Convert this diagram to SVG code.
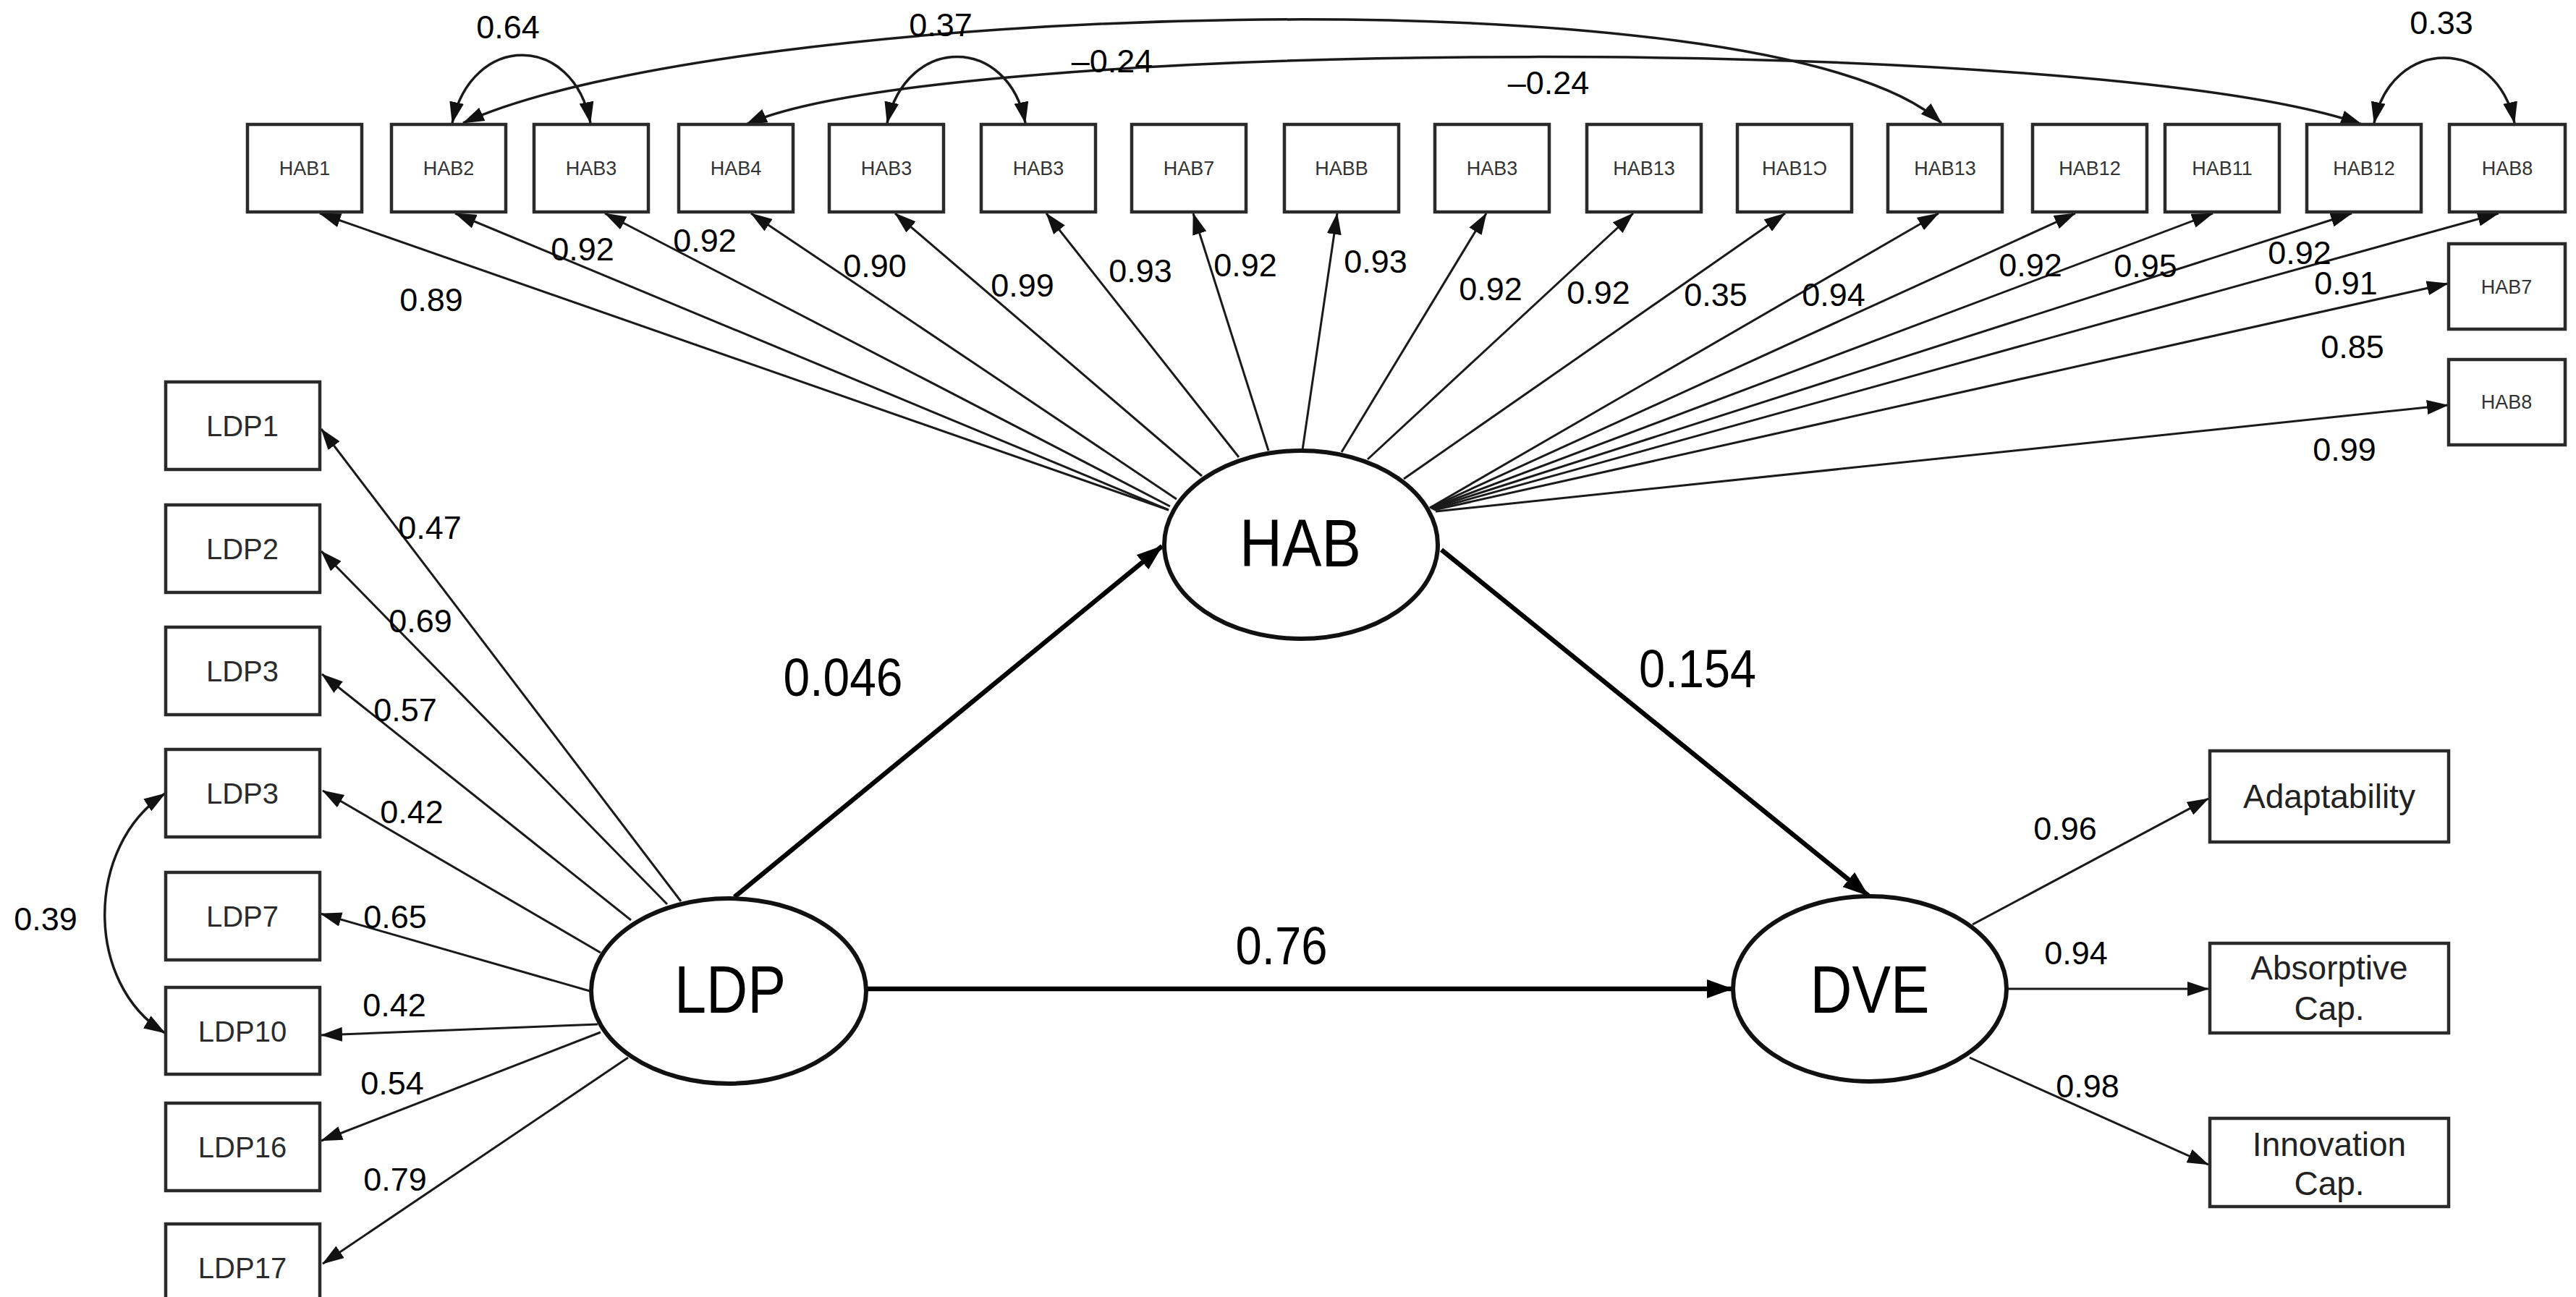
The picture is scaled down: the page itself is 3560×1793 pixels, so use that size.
<svg xmlns="http://www.w3.org/2000/svg" width="3560" height="1793" viewBox="0 0 3560 1793">
<defs>
<marker id="ah" viewBox="0 0 30 20" refX="29" refY="10" markerWidth="30" markerHeight="20" markerUnits="userSpaceOnUse" orient="auto-start-reverse"><path d="M0,0 L30,10 L0,20 z" fill="#111"/></marker>
<marker id="ahL" viewBox="0 0 36 26" refX="35" refY="13" markerWidth="36" markerHeight="26" markerUnits="userSpaceOnUse" orient="auto"><path d="M0,0 L36,13 L0,26 z" fill="#000"/></marker>
<style>
.box{fill:#fff;stroke:#2a2a2a;stroke-width:4.5}
.lat{fill:#fff;stroke:#111;stroke-width:6}
.ld{stroke:#1a1a1a;stroke-width:3;fill:none;marker-end:url(#ah)}
.cov{stroke:#1a1a1a;stroke-width:3.5;fill:none;marker-start:url(#ah);marker-end:url(#ah)}
.st{stroke:#000;stroke-width:6.5;fill:none;marker-end:url(#ahL)}
text{font-family:"Liberation Sans",Arial,Helvetica,sans-serif;text-anchor:middle}
.th{font-size:27px;fill:#333}
.tl{font-size:40px;fill:#2b2b2b}
.td{font-size:46px;fill:#222}
.tn{font-size:45px;fill:#000}
.tb{font-size:75px;fill:#000}
.tlat{font-size:92px;fill:#000}
</style>
</defs>
<rect x="0" y="0" width="3560" height="1793" fill="#fff"/>

<g id="connectors">
<!-- HAB loadings -->
<line class="ld" x1="1615" y1="705" x2="442" y2="295"/>
<line class="ld" x1="1615" y1="705" x2="629" y2="295"/>
<line class="ld" x1="1617" y1="700" x2="836" y2="295"/>
<line class="ld" x1="1626" y1="690" x2="1038" y2="295"/>
<line class="ld" x1="1661" y1="658" x2="1237" y2="295"/>
<line class="ld" x1="1712" y1="632" x2="1446" y2="295"/>
<line class="ld" x1="1753" y1="623" x2="1649" y2="295"/>
<line class="ld" x1="1800" y1="622" x2="1848" y2="295"/>
<line class="ld" x1="1854" y1="625" x2="2054" y2="295"/>
<line class="ld" x1="1890" y1="635" x2="2257" y2="295"/>
<line class="ld" x1="1940" y1="662" x2="2467" y2="295"/>
<line class="ld" x1="1976" y1="702" x2="2679" y2="295"/>
<line class="ld" x1="1976" y1="702" x2="2868" y2="295"/>
<line class="ld" x1="1978" y1="702" x2="3058" y2="295"/>
<line class="ld" x1="1978" y1="703" x2="3250" y2="295"/>
<line class="ld" x1="1980" y1="704" x2="3453" y2="295"/>
<line class="ld" x1="1982" y1="705" x2="3383" y2="392"/>
<line class="ld" x1="1984" y1="707" x2="3383" y2="560"/>
<!-- HAB covariances -->
<path class="cov" d="M625,170 C652,45 792,45 816,170"/>
<path class="cov" d="M1226,170 C1253,48 1393,48 1417,170"/>
<path class="cov" d="M3281,170 C3305,50 3450,50 3475,170"/>
<path class="cov" d="M640,170 C1000,5 2450,-45 2683,170"/>
<path class="cov" d="M1031,172 C1300,50 2900,45 3264,172"/>
<!-- LDP loadings -->
<line class="ld" x1="941" y1="1246" x2="444" y2="593"/>
<line class="ld" x1="922" y1="1250" x2="444" y2="762"/>
<line class="ld" x1="872" y1="1272" x2="445" y2="932"/>
<line class="ld" x1="830" y1="1317" x2="446" y2="1093"/>
<line class="ld" x1="815" y1="1370" x2="443" y2="1263"/>
<line class="ld" x1="826" y1="1416" x2="444" y2="1431"/>
<line class="ld" x1="830" y1="1427" x2="444" y2="1577"/>
<line class="ld" x1="868" y1="1462" x2="446" y2="1747"/>
<path class="cov" d="M228,1097 C117,1170 117,1360 228,1428"/>
<!-- DVE loadings -->
<line class="ld" x1="2726" y1="1278" x2="3052" y2="1104"/>
<line class="ld" x1="2774" y1="1367" x2="3052" y2="1367"/>
<line class="ld" x1="2722" y1="1462" x2="3052" y2="1610"/>
<!-- structural paths -->
<line class="st" x1="1015" y1="1240" x2="1606" y2="755"/>
<line class="st" x1="1992" y1="760" x2="2582" y2="1238"/>
<line class="st" x1="1197" y1="1367" x2="2394" y2="1367"/>

<!-- labels -->
<g class="tn">
<text x="702" y="53">0.64</text>
<text x="1300" y="50">0.37</text>
<text x="1537" y="100">–0.24</text>
<text x="2140" y="130">–0.24</text>
<text x="3374" y="47">0.33</text>
<text x="596" y="430">0.89</text>
<text x="805" y="360">0.92</text>
<text x="974" y="348">0.92</text>
<text x="1209" y="383">0.90</text>
<text x="1413" y="410">0.99</text>
<text x="1576" y="390">0.93</text>
<text x="1721" y="382">0.92</text>
<text x="1901" y="377">0.93</text>
<text x="2060" y="415">0.92</text>
<text x="2209" y="420">0.92</text>
<text x="2371" y="423">0.35</text>
<text x="2534" y="423">0.94</text>
<text x="2806" y="382">0.92</text>
<text x="2965" y="383">0.95</text>
<text x="3178" y="365">0.92</text>
<text x="3242" y="407">0.91</text>
<text x="3251" y="495">0.85</text>
<text x="3240" y="637">0.99</text>
<text x="594" y="745">0.47</text>
<text x="581" y="874">0.69</text>
<text x="560" y="997">0.57</text>
<text x="569" y="1138">0.42</text>
<text x="63" y="1286">0.39</text>
<text x="546" y="1283">0.65</text>
<text x="545" y="1405">0.42</text>
<text x="542" y="1513">0.54</text>
<text x="546" y="1646">0.79</text>
<text x="2854" y="1161">0.96</text>
<text x="2869" y="1333">0.94</text>
<text x="2885" y="1517">0.98</text>
</g>
<text class="tb" x="1165" y="962" textLength="165" lengthAdjust="spacingAndGlyphs">0.046</text>
<text class="tb" x="2346" y="950" textLength="162" lengthAdjust="spacingAndGlyphs">0.154</text>
<text class="tb" x="1771" y="1333" textLength="127" lengthAdjust="spacingAndGlyphs">0.76</text>
</g>

<!-- latent variables -->
<g id="HAB"><ellipse class="lat" cx="1798" cy="753" rx="189" ry="130"/><text class="tlat" x="1797" y="783" textLength="168" lengthAdjust="spacingAndGlyphs">HAB</text></g>
<g id="LDP"><ellipse class="lat" cx="1007" cy="1370" rx="190" ry="128"/><text class="tlat" x="1009" y="1400" textLength="154" lengthAdjust="spacingAndGlyphs">LDP</text></g>
<g id="DVE"><ellipse class="lat" cx="2584" cy="1367" rx="189" ry="128"/><text class="tlat" x="2584" y="1400" textLength="165" lengthAdjust="spacingAndGlyphs">DVE</text></g>

<!-- HAB indicators -->
<g id="hab1"><rect class="box" x="342" y="172" width="158" height="121"/><text class="th" x="421" y="242">HAB1</text></g>
<g id="hab2"><rect class="box" x="541" y="172" width="158" height="121"/><text class="th" x="620" y="242">HAB2</text></g>
<g id="hab3a"><rect class="box" x="738" y="172" width="158" height="121"/><text class="th" x="817" y="242">HAB3</text></g>
<g id="hab4"><rect class="box" x="938" y="172" width="158" height="121"/><text class="th" x="1017" y="242">HAB4</text></g>
<g id="hab3b"><rect class="box" x="1146" y="172" width="158" height="121"/><text class="th" x="1225" y="242">HAB3</text></g>
<g id="hab3c"><rect class="box" x="1356" y="172" width="158" height="121"/><text class="th" x="1435" y="242">HAB3</text></g>
<g id="hab7a"><rect class="box" x="1564" y="172" width="158" height="121"/><text class="th" x="1643" y="242">HAB7</text></g>
<g id="habb"><rect class="box" x="1775" y="172" width="158" height="121"/><text class="th" x="1854" y="242">HABB</text></g>
<g id="hab3d"><rect class="box" x="1983" y="172" width="158" height="121"/><text class="th" x="2062" y="242">HAB3</text></g>
<g id="hab13a"><rect class="box" x="2193" y="172" width="158" height="121"/><text class="th" x="2272" y="242">HAB13</text></g>
<g id="hab1x"><rect class="box" x="2401" y="172" width="158" height="121"/><text class="th" x="2480" y="242">HAB1Ɔ</text></g>
<g id="hab13b"><rect class="box" x="2609" y="172" width="158" height="121"/><text class="th" x="2688" y="242">HAB13</text></g>
<g id="hab12a"><rect class="box" x="2809" y="172" width="158" height="121"/><text class="th" x="2888" y="242">HAB12</text></g>
<g id="hab11"><rect class="box" x="2992" y="172" width="158" height="121"/><text class="th" x="3071" y="242">HAB11</text></g>
<g id="hab12b"><rect class="box" x="3188" y="172" width="158" height="121"/><text class="th" x="3267" y="242">HAB12</text></g>
<g id="hab8a"><rect class="box" x="3385" y="172" width="160" height="121"/><text class="th" x="3465" y="242">HAB8</text></g>
<g id="hab7b"><rect class="box" x="3384" y="337" width="161" height="118"/><text class="th" x="3464" y="406">HAB7</text></g>
<g id="hab8b"><rect class="box" x="3384" y="497" width="161" height="118"/><text class="th" x="3464" y="565">HAB8</text></g>

<!-- LDP indicators -->
<g id="ldp1"><rect class="box" x="229" y="528" width="213" height="121"/><text class="tl" x="335" y="603">LDP1</text></g>
<g id="ldp2"><rect class="box" x="229" y="698" width="213" height="121"/><text class="tl" x="335" y="773">LDP2</text></g>
<g id="ldp3a"><rect class="box" x="229" y="867" width="213" height="121"/><text class="tl" x="335" y="942">LDP3</text></g>
<g id="ldp3b"><rect class="box" x="229" y="1036" width="213" height="121"/><text class="tl" x="335" y="1111">LDP3</text></g>
<g id="ldp7"><rect class="box" x="229" y="1206" width="213" height="121"/><text class="tl" x="335" y="1281">LDP7</text></g>
<g id="ldp10"><rect class="box" x="229" y="1365" width="213" height="120"/><text class="tl" x="335" y="1440">LDP10</text></g>
<g id="ldp16"><rect class="box" x="229" y="1525" width="213" height="121"/><text class="tl" x="335" y="1600">LDP16</text></g>
<g id="ldp17"><rect class="box" x="229" y="1692" width="213" height="130"/><text class="tl" x="335" y="1767">LDP17</text></g>

<!-- DVE indicators -->
<g id="adapt"><rect class="box" x="3054" y="1038" width="330" height="126"/><text class="td" x="3219" y="1117">Adaptability</text></g>
<g id="absorb"><rect class="box" x="3054" y="1304" width="330" height="124"/><text class="td" x="3219" y="1354">Absorptive</text><text class="td" x="3219" y="1410">Cap.</text></g>
<g id="innov"><rect class="box" x="3054" y="1546" width="330" height="122"/><text class="td" x="3219" y="1598">Innovation</text><text class="td" x="3219" y="1652">Cap.</text></g>
</svg>
